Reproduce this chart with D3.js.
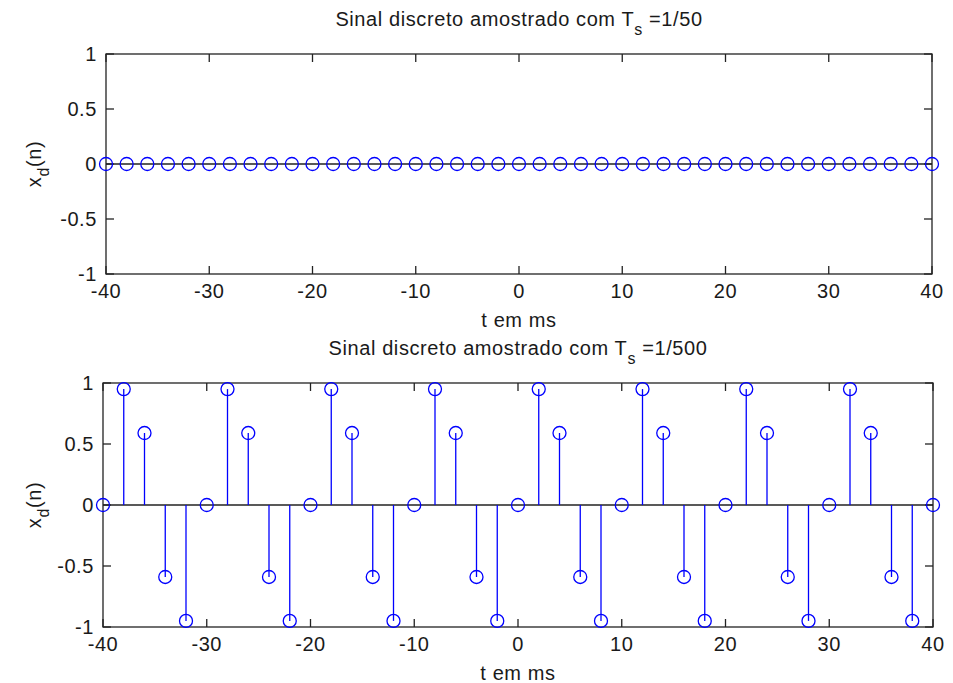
<!DOCTYPE html>
<html>
<head>
<meta charset="utf-8">
<script src="https://cdn.jsdelivr.net/npm/d3@7/dist/d3.min.js"></script>
<style>
  html, body { margin: 0; padding: 0; background: #fff; }
  svg { display: block; }
  text { font-family: "Liberation Sans", Arial, sans-serif; fill: #1a1a1a; letter-spacing: 0.6px; }
</style>
</head>
<body>
<svg id="chart" width="953" height="683"></svg>
<script>
// ---- data ----
const timeMs = [-40,-38,-36,-34,-32,-30,-28,-26,-24,-22,-20,-18,-16,-14,-12,-10,-8,-6,-4,-2,0,
                2,4,6,8,10,12,14,16,18,20,22,24,26,28,30,32,34,36,38,40];
const valuesTs50 = [0,0,0,0,0,0,0,0,0,0,0,0,0,0,0,0,0,0,0,0,0,
                    0,0,0,0,0,0,0,0,0,0,0,0,0,0,0,0,0,0,0,0];
const valuesTs500 = [0,0.95,0.59,-0.59,-0.95, 0,0.95,0.59,-0.59,-0.95,
                     0,0.95,0.59,-0.59,-0.95, 0,0.95,0.59,-0.59,-0.95,
                     0,0.95,0.59,-0.59,-0.95, 0,0.95,0.59,-0.59,-0.95,
                     0,0.95,0.59,-0.59,-0.95, 0,0.95,0.59,-0.59,-0.95, 0];
const xTicks = [-40,-30,-20,-10,0,10,20,30,40];
const yTicks = [-1,-0.5,0,0.5,1];
const xTickLabels = ["-40","-30","-20","-10","0","10","20","30","40"];
const yTickLabels = ["-1","-0.5","0","0.5","1"];
const titles = ["1/50", "1/500"];

const svg = d3.select("#chart");
const blue = "#0000ff";
const FS = 20, SUB = 16;

function panel(box, values, tsText) {
  const x = d3.scaleLinear().domain([-40, 40]).range([box.left, box.right]);
  const y = d3.scaleLinear().domain([-1, 1]).range([box.bottom, box.top]);
  const g = svg.append("g");
  const tickLen = 8;
  const axisColor = "#222";

  g.append("rect").attr("x", box.left).attr("y", box.top)
    .attr("width", box.right - box.left).attr("height", box.bottom - box.top)
    .attr("fill", "none").attr("stroke", axisColor).attr("stroke-width", 1.3);

  const ax = g.append("g").attr("class", "axes");
  xTicks.forEach((t, i) => {
    ax.append("line").attr("x1", x(t)).attr("x2", x(t)).attr("y1", box.bottom).attr("y2", box.bottom - tickLen)
      .attr("stroke", axisColor).attr("stroke-width", 1.3);
    ax.append("line").attr("x1", x(t)).attr("x2", x(t)).attr("y1", box.top).attr("y2", box.top + tickLen)
      .attr("stroke", axisColor).attr("stroke-width", 1.3);
    ax.append("text").attr("x", x(t)).attr("y", box.bottom + 24).attr("text-anchor", "middle")
      .attr("font-size", FS).text(xTickLabels[i]);
  });
  yTicks.forEach((v, i) => {
    ax.append("line").attr("x1", box.left).attr("x2", box.left + tickLen).attr("y1", y(v)).attr("y2", y(v))
      .attr("stroke", axisColor).attr("stroke-width", 1.3);
    ax.append("line").attr("x1", box.right).attr("x2", box.right - tickLen).attr("y1", y(v)).attr("y2", y(v))
      .attr("stroke", axisColor).attr("stroke-width", 1.3);
    ax.append("text").attr("x", box.left - 9).attr("y", y(v) + 7).attr("text-anchor", "end")
      .attr("font-size", FS).text(yTickLabels[i]);
  });

  g.append("line").attr("x1", box.left).attr("x2", box.right).attr("y1", y(0)).attr("y2", y(0))
    .attr("stroke", axisColor).attr("stroke-width", 1.3);

  const data = timeMs.map((t, i) => ({ t, v: values[i] }));
  g.selectAll("line.stem").data(data).enter().append("line").attr("class", "stem")
    .attr("x1", d => x(d.t)).attr("x2", d => x(d.t))
    .attr("y1", y(0)).attr("y2", d => y(d.v))
    .attr("stroke", blue).attr("stroke-width", 1.3);
  g.selectAll("circle.mk").data(data).enter().append("circle").attr("class", "mk")
    .attr("cx", d => x(d.t)).attr("cy", d => y(d.v)).attr("r", 6.5)
    .attr("fill", "none").attr("stroke", blue).attr("stroke-width", 1.3);

  const cx = (box.left + box.right) / 2;
  const title = g.append("text").attr("x", cx).attr("y", box.top - 28).attr("text-anchor", "middle")
    .attr("font-size", FS);
  title.append("tspan").text("Sinal discreto amostrado com T");
  title.append("tspan").attr("dy", 9).attr("font-size", SUB).text("s");
  title.append("tspan").attr("dy", -9).text(" =" + tsText);

  g.append("text").attr("x", cx).attr("y", box.bottom + 53).attr("text-anchor", "middle")
    .attr("font-size", FS).text("t em ms");

  const ymid = (box.top + box.bottom) / 2;
  const yl = g.append("text").attr("transform", `translate(41,${ymid}) rotate(-90)`)
    .attr("text-anchor", "middle").attr("font-size", FS);
  yl.append("tspan").text("x");
  yl.append("tspan").attr("dy", 8).attr("font-size", SUB).text("d");
  yl.append("tspan").attr("dy", -8).text("(n)");
}

panel({ left: 106, right: 932, top: 54, bottom: 274 }, valuesTs50, titles[0]);
panel({ left: 103, right: 933, top: 383, bottom: 627 }, valuesTs500, titles[1]);
</script>
</body>
</html>
